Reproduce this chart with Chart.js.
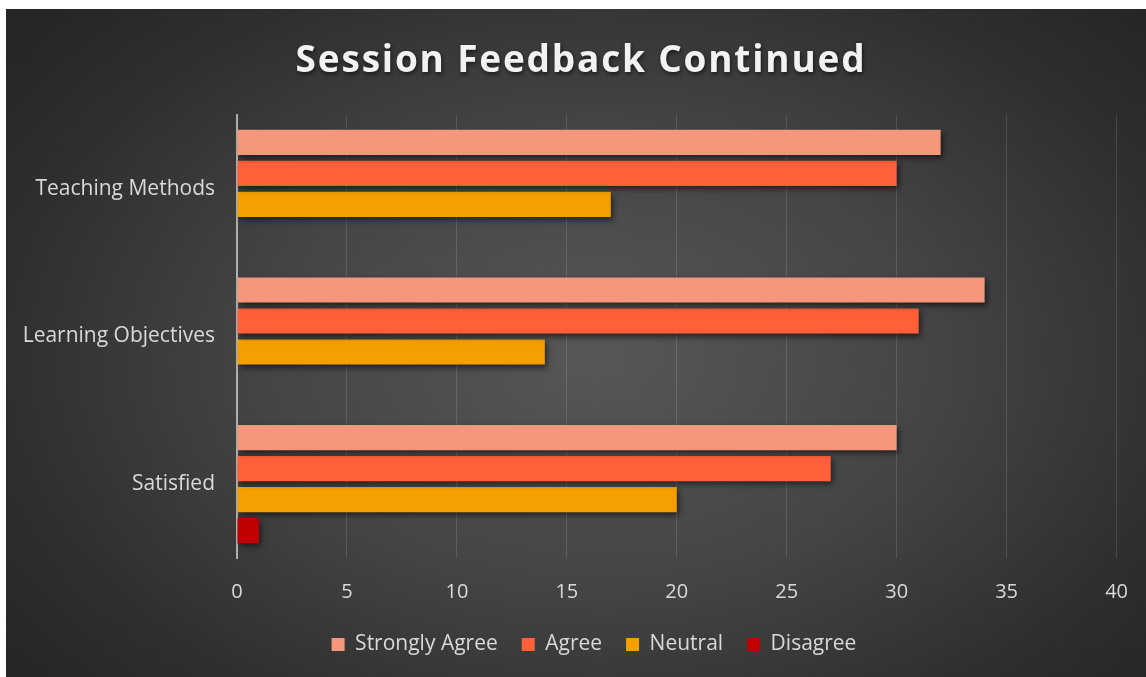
<!DOCTYPE html>
<html>
<head>
<meta charset="utf-8">
<script src="https://cdn.jsdelivr.net/npm/chart.js@4.4.1/dist/chart.umd.min.js"></script>
<style>
html, body { margin: 0; padding: 0; background: #ffffff; }
#caja {
    position: absolute; left: 6px; top: 9px; width: 1140px; height: 668px;
    background: radial-gradient(ellipse 65% 75% at 52% 52%, #575757 0%, #454545 45%, #2f2f2f 80%, #262626 100%);
}
</style>
</head>
<body>
<div id="caja"><canvas id="grafico" width="1140" height="668"></canvas></div>
<script>
const titulo = "Session Feedback Continued";
const categorias = ["Teaching Methods", "Learning Objectives", "Satisfied"];
const series = ["Strongly Agree", "Agree", "Neutral", "Disagree"];
const muyDeAcuerdo = [32, 34, 30];
const deAcuerdo = [30, 31, 27];
const neutral = [17, 14, 20];
const enDesacuerdo = [0, 0, 1];
const ejeMin = 0;
const ejeMax = 40;
const ejePaso = 5;
const colores = ["#F4977B", "#FF603A", "#F5A000", "#C00000"];

const textoClaro = "#d9d9d9";
const fuente = "'Open Sans', 'DejaVu Sans', sans-serif";

// sombra de las barras
const sombraBarras = {
    id: 'sombraBarras',
    beforeDatasetsDraw(chart) {
        const ctx = chart.ctx;
        ctx.save();
        ctx.shadowColor = 'rgba(0,0,0,0.55)';
        ctx.shadowBlur = 6;
        ctx.shadowOffsetX = 2;
        ctx.shadowOffsetY = 3;
    },
    afterDatasetsDraw(chart) {
        chart.ctx.restore();
    }
};

// titulo con espaciado entre letras y sombra
const tituloEspaciado = {
    id: 'tituloEspaciado',
    afterDraw(chart) {
        const ctx = chart.ctx;
        ctx.save();
        ctx.font = "bold 37px " + fuente;
        ctx.letterSpacing = "1.8px";
        ctx.fillStyle = "#f2f2f2";
        ctx.textAlign = "center";
        ctx.textBaseline = "alphabetic";
        ctx.shadowColor = "rgba(0,0,0,0.6)";
        ctx.shadowBlur = 4;
        ctx.shadowOffsetX = 1;
        ctx.shadowOffsetY = 2;
        ctx.fillText(titulo, 575, 63);
        ctx.restore();
    }
};

// corre la leyenda un poco a la derecha
const moverLeyenda = {
    id: 'moverLeyenda',
    afterLayout(chart) {
        if (chart.legend) {
            chart.legend.left += 28;
            chart.legend.right += 28;
        }
    }
};

const valores = [muyDeAcuerdo, deAcuerdo, neutral, enDesacuerdo];
const datasets = series.map(function (nombre, i) {
    return {
        label: nombre,
        data: valores[i],
        backgroundColor: colores[i],
        borderWidth: 0,
        categoryPercentage: 0.84,
        barPercentage: 0.81
    };
});

new Chart(document.getElementById('grafico'), {
    type: 'bar',
    plugins: [sombraBarras, tituloEspaciado, moverLeyenda],
    data: {
        labels: categorias,
        datasets: datasets
    },
    options: {
        indexAxis: 'y',
        responsive: false,
        animation: false,
        layout: {
            padding: { top: 106, left: 0, right: 20, bottom: 12 }
        },
        scales: {
            x: {
                min: ejeMin,
                max: ejeMax,
                ticks: {
                    stepSize: ejePaso,
                    color: textoClaro,
                    padding: 18,
                    font: { family: fuente, size: 20, lineHeight: 1.6 }
                },
                grid: {
                    color: 'rgba(255,255,255,0.13)',
                    lineWidth: 1,
                    drawTicks: false
                },
                border: { display: false },
                afterFit: function (scale) { scale.height = 52; }
            },
            y: {
                ticks: {
                    color: textoClaro,
                    padding: 22,
                    font: { family: fuente, size: 21 }
                },
                grid: { display: false, drawTicks: false },
                border: { display: true, color: 'rgba(210,210,210,0.75)', width: 2 },
                afterFit: function (scale) { scale.width = 231; }
            }
        },
        plugins: {
            title: { display: false },
            legend: {
                position: 'bottom',
                labels: {
                    color: textoClaro,
                    boxWidth: 13,
                    boxHeight: 13,
                    padding: 24,
                    font: { family: fuente, size: 21 }
                }
            },
            tooltip: { enabled: false }
        }
    }
});
</script>
</body>
</html>
